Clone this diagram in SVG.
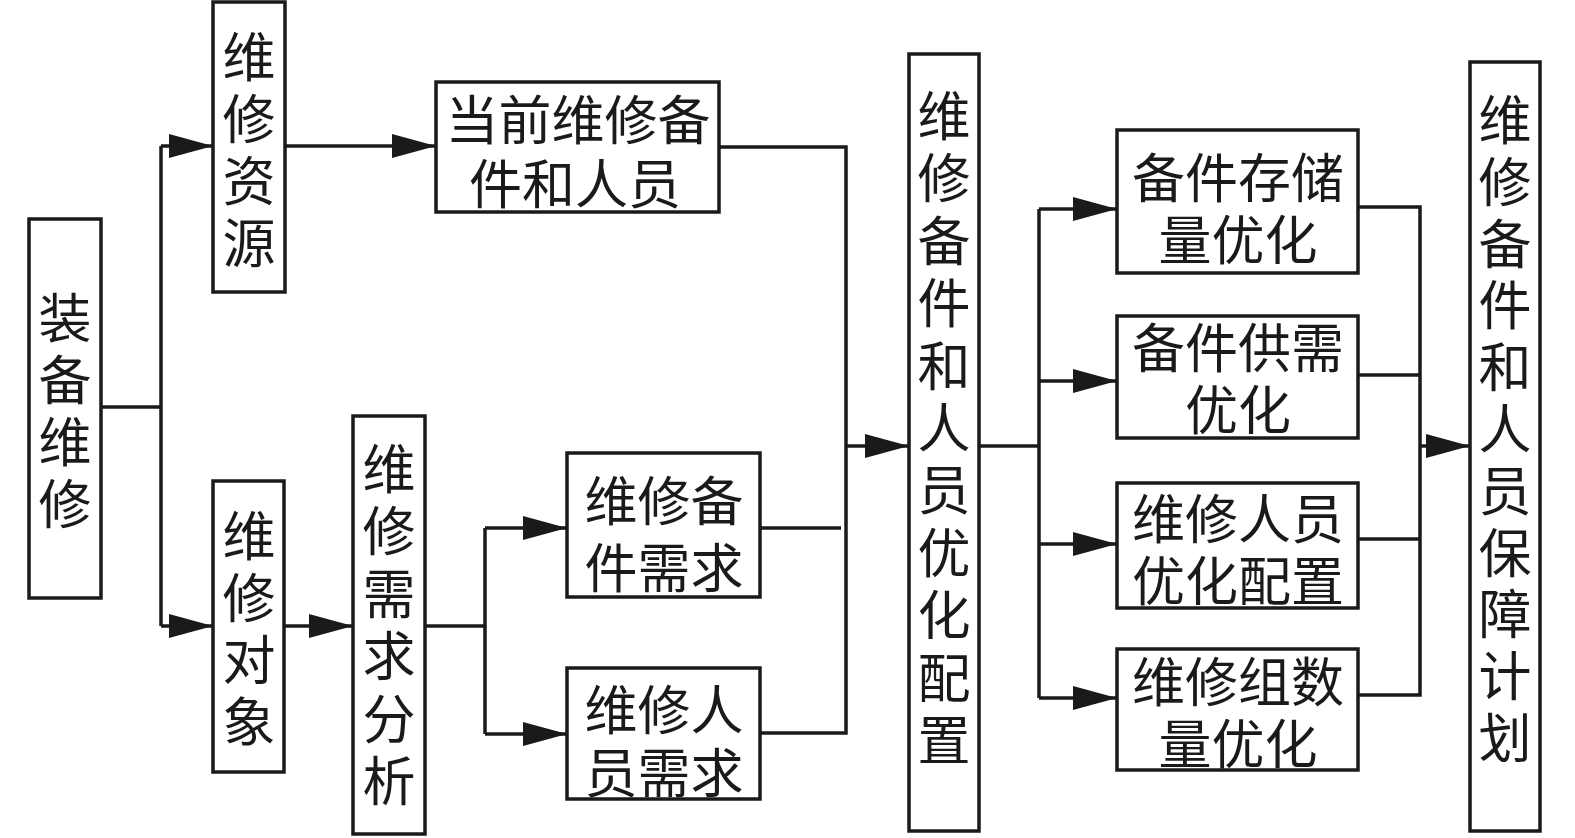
<svg xmlns="http://www.w3.org/2000/svg" width="1575" height="838" viewBox="0 0 1575 838">
<defs>
<marker id="arr" markerUnits="userSpaceOnUse" markerWidth="44" markerHeight="24" refX="44" refY="12" orient="auto">
<path d="M0,0 L44,12 L0,24 z" fill="#1a1a1a"/>
</marker>
</defs>
<style>
.box{fill:#fff;stroke:#1a1a1a;stroke-width:3.5}
.t{font-family:"Noto Sans CJK SC","Noto Sans CJK JP",sans-serif;font-size:53px;fill:#1a1a1a;text-anchor:middle;dominant-baseline:central}
.c{fill:none;stroke:#1a1a1a;stroke-width:3.5}
.a{fill:none;stroke:#1a1a1a;stroke-width:3.5;marker-end:url(#arr)}
</style>
<rect width="1575" height="838" fill="#fff"/>
<g id="connectors">
<polyline class="c" points="101,407 161,407"/>
<polyline class="c" points="161,146 161,626"/>
<line class="a" x1="161" y1="146" x2="213" y2="146"/>
<line class="a" x1="161" y1="626" x2="213" y2="626"/>
<line class="a" x1="285" y1="146" x2="436" y2="146"/>
<line class="a" x1="284" y1="626" x2="353" y2="626"/>
<polyline class="c" points="425,626 485,626"/>
<polyline class="c" points="485,528 485,734"/>
<line class="a" x1="485" y1="528" x2="567" y2="528"/>
<line class="a" x1="485" y1="734" x2="567" y2="734"/>
<polyline class="c" points="719,147 846,147 846,733 760,733"/>
<polyline class="c" points="760,528 841,528"/>
<line class="a" x1="846" y1="446" x2="909" y2="446"/>
<polyline class="c" points="979,446 1039,446"/>
<polyline class="c" points="1039,209 1039,698"/>
<line class="a" x1="1039" y1="209" x2="1117" y2="209"/>
<line class="a" x1="1039" y1="381" x2="1117" y2="381"/>
<line class="a" x1="1039" y1="544" x2="1117" y2="544"/>
<line class="a" x1="1039" y1="698" x2="1117" y2="698"/>
<polyline class="c" points="1358,207 1420,207 1420,695 1358,695"/>
<polyline class="c" points="1358,375 1420,375"/>
<polyline class="c" points="1358,539 1420,539"/>
<line class="a" x1="1420" y1="446" x2="1470" y2="446"/>
</g>
<g id="n-zbwx">
<rect class="box" x="29" y="219" width="72" height="379"/>
<text class="t"><tspan x="65" y="315">装</tspan><tspan x="65" y="377">备</tspan><tspan x="65" y="439">维</tspan><tspan x="65" y="501">修</tspan></text>
</g>
<g id="n-wxzy">
<rect class="box" x="213" y="2" width="72" height="290"/>
<text class="t"><tspan x="249" y="54">维</tspan><tspan x="249" y="116">修</tspan><tspan x="249" y="178">资</tspan><tspan x="249" y="240">源</tspan></text>
</g>
<g id="n-wxdx">
<rect class="box" x="213" y="481" width="71" height="291"/>
<text class="t"><tspan x="249" y="533">维</tspan><tspan x="249" y="595">修</tspan><tspan x="249" y="657">对</tspan><tspan x="249" y="719">象</tspan></text>
</g>
<g id="n-wxxqfx">
<rect class="box" x="353" y="416" width="72" height="418"/>
<text class="t"><tspan x="389" y="466">维</tspan><tspan x="389" y="528">修</tspan><tspan x="389" y="591">需</tspan><tspan x="389" y="653">求</tspan><tspan x="389" y="716">分</tspan><tspan x="389" y="778">析</tspan></text>
</g>
<g id="n-dqwx">
<rect class="box" x="436" y="82" width="283" height="130"/>
<text class="t"><tspan x="578" y="117">当前维修备</tspan><tspan x="575" y="181">件和人员</tspan></text>
</g>
<g id="n-bjxq">
<rect class="box" x="567" y="453" width="193" height="144"/>
<text class="t"><tspan x="664" y="498">维修备</tspan><tspan x="664" y="565">件需求</tspan></text>
</g>
<g id="n-ryxq">
<rect class="box" x="567" y="668" width="193" height="131"/>
<text class="t"><tspan x="664" y="707">维修人</tspan><tspan x="664" y="770">员需求</tspan></text>
</g>
<g id="n-yhpz">
<rect class="box" x="909" y="54" width="70" height="777"/>
<text class="t"><tspan x="944" y="113">维</tspan><tspan x="944" y="175">修</tspan><tspan x="944" y="238">备</tspan><tspan x="944" y="300">件</tspan><tspan x="944" y="363">和</tspan><tspan x="944" y="425">人</tspan><tspan x="944" y="487">员</tspan><tspan x="944" y="550">优</tspan><tspan x="944" y="612">化</tspan><tspan x="944" y="675">配</tspan><tspan x="944" y="737">置</tspan></text>
</g>
<g id="n-ccl">
<rect class="box" x="1117" y="130" width="241" height="143"/>
<text class="t"><tspan x="1238" y="175">备件存储</tspan><tspan x="1238" y="237">量优化</tspan></text>
</g>
<g id="n-gx">
<rect class="box" x="1117" y="316" width="241" height="122"/>
<text class="t"><tspan x="1238" y="345">备件供需</tspan><tspan x="1238" y="407">优化</tspan></text>
</g>
<g id="n-rypz">
<rect class="box" x="1117" y="483" width="241" height="125"/>
<text class="t"><tspan x="1238" y="516">维修人员</tspan><tspan x="1238" y="578">优化配置</tspan></text>
</g>
<g id="n-wxz">
<rect class="box" x="1117" y="649" width="241" height="121"/>
<text class="t"><tspan x="1238" y="679">维修组数</tspan><tspan x="1238" y="741">量优化</tspan></text>
</g>
<g id="n-bzjh">
<rect class="box" x="1470" y="62" width="70" height="769"/>
<text class="t"><tspan x="1505" y="117">维</tspan><tspan x="1505" y="179">修</tspan><tspan x="1505" y="241">备</tspan><tspan x="1505" y="302">件</tspan><tspan x="1505" y="364">和</tspan><tspan x="1505" y="426">人</tspan><tspan x="1505" y="488">员</tspan><tspan x="1505" y="550">保</tspan><tspan x="1505" y="611">障</tspan><tspan x="1505" y="673">计</tspan><tspan x="1505" y="735">划</tspan></text>
</g>
</svg>
